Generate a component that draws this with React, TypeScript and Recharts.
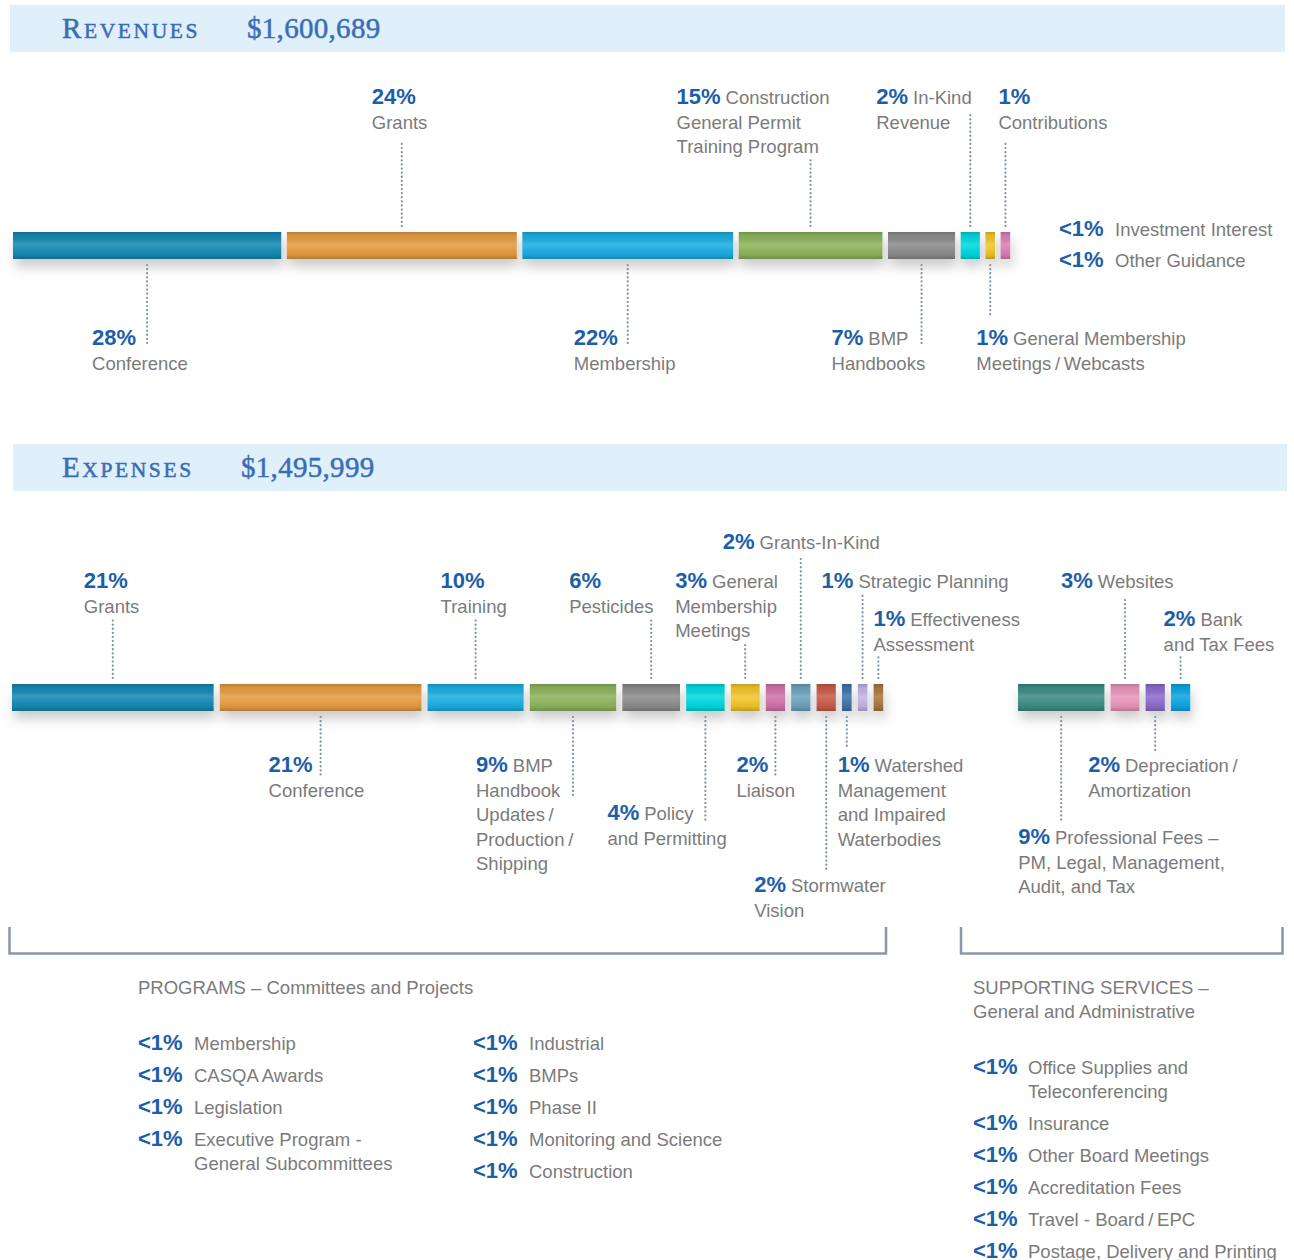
import React from 'react';
import { BarChart, Bar, XAxis, YAxis } from 'recharts';

// ---------- DATA ----------
const revenueTotal = '$1,600,689';
const expenseTotal = '$1,495,999';

const revenueCategories = ['Conference', 'Grants', 'Membership', 'Construction General Permit Training Program', 'BMP Handbooks', 'In-Kind Revenue', 'General Membership Meetings/Webcasts', 'Contributions'];
const revenueShares = [28, 24, 22, 15, 7, 2, 1, 1];
const revenueLabelLines = [
  ['', 'Conference'],
  ['', 'Grants'],
  ['', 'Membership'],
  ['Construction', 'General Permit', 'Training Program'],
  ['BMP', 'Handbooks'],
  ['In-Kind', 'Revenue'],
  ['General Membership', 'Meetings\u2009/\u2009Webcasts'],
  ['', 'Contributions'],
];
const revenueMinor = ['Investment Interest', 'Other Guidance'];

const programCategories = ['Grants', 'Conference', 'Training', 'BMP Handbook Updates/Production/Shipping', 'Pesticides', 'Policy and Permitting', 'General Membership Meetings', 'Liaison', 'Grants-In-Kind', 'Stormwater Vision', 'Watershed Management and Impaired Waterbodies', 'Strategic Planning', 'Effectiveness Assessment'];
const programShares = [21, 21, 10, 9, 6, 4, 3, 2, 2, 2, 1, 1, 1];
const programLabelLines = [
  ['', 'Grants'],
  ['', 'Conference'],
  ['', 'Training'],
  ['BMP', 'Handbook', 'Updates\u2009/', 'Production\u2009/', 'Shipping'],
  ['', 'Pesticides'],
  ['Policy', 'and Permitting'],
  ['General', 'Membership', 'Meetings'],
  ['', 'Liaison'],
  ['Grants-In-Kind'],
  ['Stormwater', 'Vision'],
  ['Watershed', 'Management', 'and Impaired', 'Waterbodies'],
  ['Strategic Planning'],
  ['Effectiveness', 'Assessment'],
];

const supportCategories = ['Professional Fees – PM, Legal, Management, Audit, and Tax', 'Websites', 'Depreciation/Amortization', 'Bank and Tax Fees'];
const supportShares = [9, 3, 2, 2];
const supportLabelLines = [
  ['Professional Fees –', 'PM, Legal, Management,', 'Audit, and Tax'],
  ['Websites'],
  ['Depreciation\u2009/', 'Amortization'],
  ['Bank', 'and Tax Fees'],
];

const programsTitle = 'PROGRAMS – Committees and Projects';
const programsMinorLeft = [['Membership'], ['CASQA Awards'], ['Legislation'], ['Executive Program -', 'General Subcommittees']];
const programsMinorRight = [['Industrial'], ['BMPs'], ['Phase II'], ['Monitoring and Science'], ['Construction']];
const supportTitle = ['SUPPORTING SERVICES –', 'General and Administrative'];
const supportMinor = [['Office Supplies and', 'Teleconferencing'], ['Insurance'], ['Other Board Meetings'], ['Accreditation Fees'], ['Travel - Board\u2009/\u2009EPC'], ['Postage, Delivery and Printing']];
const minorLabel = '<1%';

// ---------- STYLE / LAYOUT ----------
const revenueColors = ['#1489b3', '#e59c42', '#1eaee0', '#8cb45c', '#8c8c8c', '#00d8df', '#f0c52a', '#d97fb6'];
const programColors = ['#1489b3', '#e59c42', '#1eaee0', '#8cb45c', '#8c8c8c', '#00d8df', '#f0c52a', '#d173aa', '#6ea3bf', '#c85b4b', '#3f74aa', '#c3b3e6', '#a87a3c'];
const supportColors = ['#3d8c83', '#e896b8', '#8d6ccf', '#0ba6e2'];

type Lay = { side: 'top' | 'bottom'; end: number; dx: number; ty: number };
const revenueLayout: Lay[] = [
  { side: 'bottom', end: 345, dx: -55, ty: 338 },
  { side: 'top', end: 140, dx: -30, ty: 97 },
  { side: 'bottom', end: 345, dx: -54, ty: 338 },
  { side: 'top', end: 160, dx: -134, ty: 97 },
  { side: 'bottom', end: 345, dx: -90, ty: 338 },
  { side: 'top', end: 115, dx: -94, ty: 97 },
  { side: 'bottom', end: 318, dx: -14, ty: 338 },
  { side: 'top', end: 140, dx: -7, ty: 97 },
];
const programLayout: Lay[] = [
  { side: 'top', end: 620, dx: -29, ty: 581 },
  { side: 'bottom', end: 775, dx: -52, ty: 765 },
  { side: 'top', end: 620, dx: -35, ty: 581 },
  { side: 'bottom', end: 795, dx: -97, ty: 765 },
  { side: 'top', end: 620, dx: -82, ty: 581 },
  { side: 'bottom', end: 820, dx: -98, ty: 813 },
  { side: 'top', end: 645, dx: -70, ty: 581 },
  { side: 'bottom', end: 775, dx: -39, ty: 765 },
  { side: 'top', end: 555, dx: -78, ty: 542 },
  { side: 'bottom', end: 870, dx: -72, ty: 885 },
  { side: 'bottom', end: 746, dx: -9, ty: 765 },
  { side: 'top', end: 595, dx: -41, ty: 581 },
  { side: 'top', end: 655, dx: -5, ty: 619 },
];
const supportLayout: Lay[] = [
  { side: 'bottom', end: 820, dx: -43, ty: 837 },
  { side: 'top', end: 600, dx: -64, ty: 581 },
  { side: 'bottom', end: 752, dx: -67, ty: 765 },
  { side: 'top', end: 657, dx: -17, ty: 619 },
];

const PAGE_W = 1294;
const PAGE_H = 1260;
const BAR_H = 30;
const LINE = 24.5;
const PCT_COLOR = '#1d5ea8';
const TEXT_COLOR = '#7b7b7b';
const LEADER = '#7f91a2';
const HEAD_COLOR = '#3a6db5';
const SANS = '"Liberation Sans", Arial, sans-serif';
const SERIF = '"Liberation Serif", "Times New Roman", serif';
const LABEL_SIZE = 18.5;
const PCT_SIZE = 22;

function makeShape(idx: number, gap: number, color: string, value: number, lines: string[], lay: Lay) {
  return (props: any) => {
    const { x, y, width, height } = props;
    const sx = x + idx * gap;
    const cx = sx + width / 2;
    const y1 = lay.side === 'top' ? y - 6 : y + height + 6;
    const tx = cx + lay.dx;
    return (
      <g>
        <rect x={sx} y={y} width={width} height={height} fill={color} filter="url(#barShadow)" />
        <rect x={sx} y={y} width={width} height={height} fill="url(#barSheen)" />
        <line x1={cx} x2={cx} y1={y1} y2={lay.end} stroke={LEADER} strokeWidth={2.2} strokeDasharray="0.1 4" strokeLinecap="round" />
        <text x={tx} y={lay.ty + 7} fontFamily={SANS} fontSize={LABEL_SIZE} fill={TEXT_COLOR}>
          <tspan fontWeight={700} fontSize={PCT_SIZE} fill={PCT_COLOR}>{value}%</tspan>
          {lines[0] ? <tspan dx={5}>{lines[0]}</tspan> : null}
        </text>
        {lines.slice(1).map((l, k) => (
          <text key={k} x={tx} y={lay.ty + (k + 1) * LINE + 7} fontFamily={SANS} fontSize={LABEL_SIZE} fill={TEXT_COLOR}>{l}</text>
        ))}
      </g>
    );
  };
}

function StackBar(p: { cats: string[]; values: number[]; colors: string[]; lines: string[][]; layout: Lay[]; left: number; barTop: number; height: number; k: number; gap: number }) {
  const total = p.values.reduce((a, b) => a + b, 0);
  const row: any = { name: 'row' };
  p.cats.forEach((c, i) => { row[c] = p.values[i]; });
  const right = PAGE_W - p.left - total * p.k;
  return (
    <div style={{ position: 'absolute', left: 0, top: 0 }}>
      <BarChart width={PAGE_W} height={p.height} data={[row]} layout="vertical" barCategoryGap={0} barSize={BAR_H}
        margin={{ left: p.left, right, top: p.barTop, bottom: p.height - p.barTop - BAR_H }}>
        <XAxis type="number" hide domain={[0, total]} />
        <YAxis type="category" dataKey="name" hide />
        {p.cats.map((c, i) => (
          <Bar key={c} dataKey={c} stackId="s" fill={p.colors[i]} isAnimationActive={false}
            shape={makeShape(i, p.gap, p.colors[i], p.values[i], p.lines[i], p.layout[i])} />
        ))}
      </BarChart>
    </div>
  );
}

function MinorList({ items, x, y0, step, labelDx }: { items: string[][]; x: number; y0: number; step: number; labelDx: number }) {
  let y = y0;
  const out: any[] = [];
  items.forEach((lines, i) => {
    out.push(
      <g key={i}>
        <text x={x} y={y + 7} fontFamily={SANS} fontWeight={700} fontSize={PCT_SIZE} fill={PCT_COLOR}>{minorLabel}</text>
        {lines.map((l, k) => (
          <text key={k} x={x + labelDx} y={y + k * 24 + 7} fontFamily={SANS} fontSize={LABEL_SIZE} fill={TEXT_COLOR}>{l}</text>
        ))}
      </g>
    );
    y += step + (lines.length - 1) * 24;
  });
  return <g>{out}</g>;
}

function Header({ y, title, total, totalX }: { y: number; title: string; total: string; totalX: number }) {
  return (
    <g stroke={HEAD_COLOR} strokeWidth={0.5} fill={HEAD_COLOR} fontFamily={SERIF}>
      <text x={62} y={y} letterSpacing={2.6}>
        <tspan fontSize={29}>{title.charAt(0).toUpperCase()}</tspan>
        <tspan fontSize={21.5}>{title.slice(1).toUpperCase()}</tspan>
      </text>
      <text x={totalX} y={y} fontSize={29} letterSpacing={0.3}>{total}</text>
    </g>
  );
}

export default function App() {
  return (
    <div style={{ position: 'absolute', left: 0, top: 0, width: PAGE_W, height: PAGE_H, background: '#fff', overflow: 'hidden' }}>
      <svg width={PAGE_W} height={PAGE_H} style={{ position: 'absolute', left: 0, top: 0 }}>
        <defs>
          <filter id="barShadow" filterUnits="userSpaceOnUse" x={-50} y={-50} width={1400} height={1400}>
            <feDropShadow dx={2} dy={8} stdDeviation={6} floodColor="#000" floodOpacity={0.2} />
          </filter>
          <linearGradient id="barSheen" x1="0" y1="0" x2="0" y2="1">
            <stop offset="0" stopColor="#000" stopOpacity={0.2} />
            <stop offset="0.15" stopColor="#000" stopOpacity={0.05} />
            <stop offset="0.45" stopColor="#fff" stopOpacity={0.14} />
            <stop offset="0.6" stopColor="#fff" stopOpacity={0.06} />
            <stop offset="0.85" stopColor="#000" stopOpacity={0.06} />
            <stop offset="1" stopColor="#000" stopOpacity={0.22} />
          </linearGradient>
        </defs>
        <rect x={10} y={5} width={1275} height={47} fill="#dff0fa" />
        <rect x={13} y={444} width={1274} height={47} fill="#dff0fa" />
        <Header y={38} title="Revenues" total={revenueTotal} totalX={247} />
        <Header y={477} title="Expenses" total={expenseTotal} totalX={241} />

        <MinorList items={revenueMinor.map((s) => [s])} x={1059} y0={229} step={31} labelDx={56} />

        <path d="M9.5 927 V953.5 H886 V927" fill="none" stroke="#8898a8" strokeWidth={2.5} />
        <path d="M961 927 V953.5 H1282.5 V927" fill="none" stroke="#8898a8" strokeWidth={2.5} />

        <text x={138} y={994} fontFamily={SANS} fontSize={LABEL_SIZE} fill={TEXT_COLOR}>{programsTitle}</text>
        <MinorList items={programsMinorLeft} x={138} y0={1043} step={32} labelDx={56} />
        <MinorList items={programsMinorRight} x={473} y0={1043} step={32} labelDx={56} />
        {supportTitle.map((t, i) => (
          <text key={i} x={973} y={994 + i * 24} fontFamily={SANS} fontSize={LABEL_SIZE} fill={TEXT_COLOR}>{t}</text>
        ))}
        <MinorList items={supportMinor} x={973} y0={1067} step={32} labelDx={55} />
      </svg>

      <StackBar cats={revenueCategories} values={revenueShares} colors={revenueColors} lines={revenueLabelLines} layout={revenueLayout} left={13} barTop={230} height={420} k={9.58} gap={5.6} />
      <StackBar cats={programCategories} values={programShares} colors={programColors} lines={programLabelLines} layout={programLayout} left={12} barTop={682} height={940} k={9.6} gap={6.2} />
      <StackBar cats={supportCategories} values={supportShares} colors={supportColors} lines={supportLabelLines} layout={supportLayout} left={1018} barTop={682} height={940} k={9.6} gap={6.2} />
    </div>
  );
}
